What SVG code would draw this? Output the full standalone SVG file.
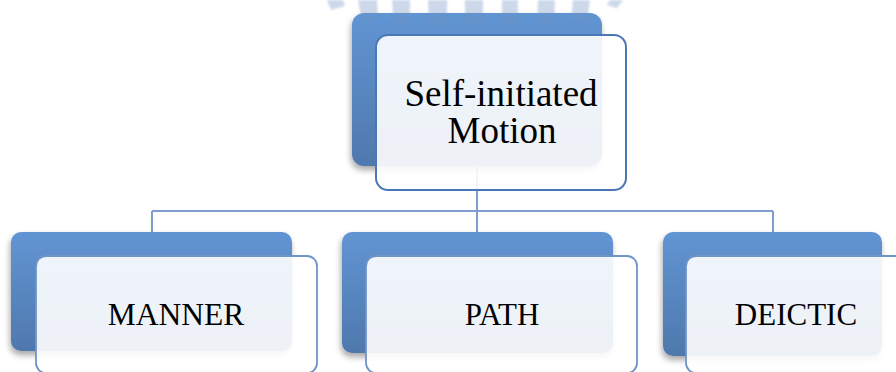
<svg xmlns="http://www.w3.org/2000/svg" width="896" height="372" viewBox="0 0 896 372">
<defs>
<linearGradient id="blueGrad" x1="0" y1="0" x2="0" y2="1">
<stop offset="0" stop-color="#6195d3"/>
<stop offset="1" stop-color="#4f78ad"/>
</linearGradient>
<filter id="shadow" x="-10%" y="-10%" width="125%" height="130%">
<feGaussianBlur in="SourceAlpha" stdDeviation="3"/>
<feOffset dx="-1" dy="4"/>
<feComponentTransfer><feFuncA type="linear" slope="0.35"/></feComponentTransfer>
<feMerge><feMergeNode/><feMergeNode in="SourceGraphic"/></feMerge>
</filter>
<filter id="soft"><feGaussianBlur stdDeviation="1"/></filter>
</defs>
<style>
.back{fill:url(#blueGrad);filter:url(#shadow);}
.front{fill:#ffffff;fill-opacity:0.9;stroke:#6f94c8;stroke-width:1.8;}
.frontTop{fill:#ffffff;fill-opacity:0.9;stroke:#4a78b6;stroke-width:2;}
.conn{fill:none;stroke:#7f9dcd;stroke-width:2;}
.lbl{font-family:"Liberation Serif","Times New Roman",serif;fill:#000;text-anchor:middle;}
.stripe{fill:#6d8fc4;opacity:0.35;}
</style>
<g id="connectors">
<path class="conn" d="M477,167 V211 M152,211 H773 M152,211 V232 M477,211 V232 M773,211 V232"/>
</g>
<g id="node-top">
<rect class="back" x="352" y="13" width="250" height="153" rx="12"/>
<rect class="frontTop" x="376" y="35" width="250" height="155" rx="12"/>
<text class="lbl" font-size="37" x="501" y="106">Self-initiated</text>
<text class="lbl" font-size="37" x="502" y="143">Motion</text>
</g>
<g id="node-manner">
<rect class="back" x="11" y="232" width="281" height="119" rx="10"/>
<rect class="front" x="36" y="256" width="281" height="117" rx="10"/>
<text class="lbl" font-size="31.5" x="176" y="325">MANNER</text>
</g>
<g id="node-path">
<rect class="back" x="342" y="232" width="271" height="121" rx="10"/>
<rect class="front" x="366" y="256" width="271" height="117" rx="10"/>
<text class="lbl" font-size="31" x="502" y="325">PATH</text>
</g>
<g id="node-deictic">
<rect class="back" x="663" y="232" width="219" height="124" rx="10"/>
<rect class="front" x="686" y="256" width="240" height="117" rx="10"/>
<text class="lbl" font-size="31" x="796" y="325">DEICTIC</text>
</g>
<g id="watermark" filter="url(#soft)">
<polygon class="stripe" points="327,0 343,0 345,6 331,10"/>
<polygon class="stripe" points="358,0 377,0 378,20 362,22"/>
<polygon class="stripe" points="392,0 410,0 410,25 394,25"/>
<polygon class="stripe" points="428,0 447,0 447,26 429,26"/>
<polygon class="stripe" points="465,0 483,0 483,26 465,26"/>
<polygon class="stripe" points="502,0 518,0 518,26 502,26"/>
<polygon class="stripe" points="538,0 555,0 554,25 537,25"/>
<polygon class="stripe" points="573,0 590,0 587,22 571,21"/>
<polygon class="stripe" points="610,0 623,0 617,8 607,5"/>
</g>
</svg>
